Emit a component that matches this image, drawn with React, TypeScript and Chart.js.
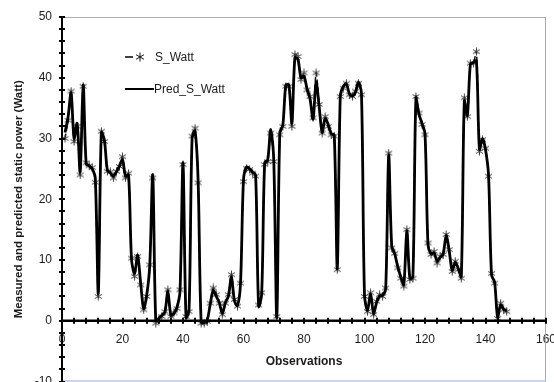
import React, { useEffect, useRef } from "react";
import { Chart, registerables } from "chart.js";
Chart.register(...registerables);

const observations = [
  1, 2, 3, 4, 5, 6, 7, 8, 9, 10, 11, 12, 13, 14, 15, 16, 17, 18, 19, 20,
  21, 22, 23, 24, 25, 26, 27, 28, 29, 30, 31, 32, 33, 34, 35, 36, 37, 38, 39, 40,
  41, 42, 43, 44, 45, 46, 47, 48, 49, 50, 51, 52, 53, 54, 55, 56, 57, 58, 59, 60,
  61, 62, 63, 64, 65, 66, 67, 68, 69, 70, 71, 72, 73, 74, 75, 76, 77, 78, 79, 80,
  81, 82, 83, 84, 85, 86, 87, 88, 89, 90, 91, 92, 93, 94, 95, 96, 97, 98, 99, 100,
  101, 102, 103, 104, 105, 106, 107, 108, 109, 110, 111, 112, 113, 114, 115, 116, 117, 118, 119, 120,
  121, 122, 123, 124, 125, 126, 127, 128, 129, 130, 131, 132, 133, 134, 135, 136, 137, 138, 139, 140,
  141, 142, 143, 144, 145, 146, 147,
];

const sWatt = [
  30, 33, 37.8, 29.5, 32, 24, 38.6, 26, 25.5, 25.2, 22.8, 4, 31.2, 29.5, 24.6, 24.5, 23.5, 24.6, 25.4, 27,
  23.5, 24.3, 10.3, 7.3, 10.6, 5.9, 1.8, 4, 9.2, 23.5, -0.4, 0.2, 0.7, 1.5, 5.1, 0.7, 1.3, 2, 5.1, 25.7,
  0.7, 1.5, 30.4, 31.7, 22.7, -0.4, -0.4, -0.1, 2.9, 5.4, 4.3, 2.9, 1, 2.9, 4.3, 7.6, 3.5, 2.4, 6.2, 22.9,
  25.1, 24.9, 24.3, 23.8, 2.6, 4.6, 25.7, 26.2, 30.9, 26.2, 0.7, 30.6, 32, 38.6, 38.6, 32, 43.8, 43.5, 39.7, 40.8,
  38, 36.9, 33.4, 40.8, 35.6, 30.9, 33.6, 32, 30.6, 30.4, 8.4, 36.9, 38.3, 39.1, 37.2, 36.9, 37.8, 39.1, 37.2, 4,
  1.5, 4.6, 1, 3.2, 4.3, 4, 5.4, 27.6, 12, 11.1, 8.7, 7, 5.7, 15, 6.8, 7, 36.9, 34.2, 32.3, 30.6,
  12.8, 10.9, 11.4, 9.5, 10.6, 10.9, 14.2, 11.7, 8.1, 9.8, 8.4, 7, 36.7, 33.6, 42.4, 42.4, 44.3, 27.9, 29.8, 28.4,
  23.8, 7.8, 6.2, 0.4, 2.9, 1.8, 1.5,
];

const predSWatt = [
  31, 33.5, 37.5, 30, 32.5, 24.5, 38.8, 25.8, 25.5, 25, 23.5, 4.5, 31, 29.8, 24.8, 24.3, 23.8, 24.5, 25.5, 26.5,
  23.8, 24, 10, 7.8, 10.8, 6.2, 2, 4.2, 9, 24, 0, 0.4, 0.9, 1.4, 4.8, 0.9, 1.2, 2.2, 4.8, 26,
  0.5, 1.8, 30, 31.2, 23, -0.2, -0.3, 0.1, 2.7, 5, 4, 3, 1.2, 3, 4, 7.2, 3.3, 2.5, 6, 23.2,
  25.3, 25, 24.5, 24, 2.4, 4.3, 26, 26.5, 31.5, 26.5, 0.5, 31, 32.2, 38.8, 38.8, 32.5, 43.3, 43, 40, 40.2,
  38.2, 36.5, 33.2, 39.3, 35.3, 31, 33.3, 32.3, 30.8, 30.6, 8.6, 37, 38.6, 39, 37.4, 37, 37.6, 39.3, 37.4, 4.2,
  1.7, 4.4, 1.2, 3, 4.1, 4.2, 5.2, 27.2, 12.3, 11, 8.9, 7.2, 6, 14.8, 7, 7.3, 36.6, 34, 32.5, 30.8,
  12.5, 11, 11.2, 9.8, 10.4, 11, 14, 11.5, 8.3, 9.6, 8.6, 7.3, 36.2, 33.8, 42.2, 42.5, 42.8, 28.2, 30, 28.2,
  24, 7.5, 6.4, 0.6, 2.6, 1.9, 1.6,
];

const seriesNames = ["S_Watt", "Pred_S_Watt"];
const xTickValues = [0, 20, 40, 60, 80, 100, 120, 140, 160];
const yTickValues = [-10, 0, 10, 20, 30, 40, 50];
const xMinorStep = 4;
const yMinorStep = 2;
const xTitle = "Observations";
const yTitle = "Measured and predicted static power (Watt)";

const FONT = "'Liberation Sans', Arial, Helvetica, sans-serif";

function makeStar(color: string, size: number) {
  const c = document.createElement("canvas");
  c.width = size;
  c.height = size;
  const g = c.getContext("2d")!;
  g.strokeStyle = color;
  g.lineWidth = 1;
  const m = size / 2;
  const r = size / 2 - 0.5;
  g.beginPath();
  g.moveTo(m, m - r);
  g.lineTo(m, m + r);
  const dx = r * 0.87;
  const dy = r * 0.5;
  g.moveTo(m - dx, m - dy);
  g.lineTo(m + dx, m + dy);
  g.moveTo(m + dx, m - dy);
  g.lineTo(m - dx, m + dy);
  g.stroke();
  return c;
}

export default function App() {
  const ref = useRef<HTMLCanvasElement | null>(null);

  useEffect(() => {
    document.body.style.margin = "0";
    const canvas = ref.current;
    if (!canvas) return;
    const star = makeStar("#3a3a3a", 9);
    const legendStar = makeStar("#111", 10);

    const framePlugin = {
      id: "frame",
      beforeDatasetsDraw(chart: any) {
        const { ctx, chartArea: a } = chart;
        ctx.save();
        ctx.strokeStyle = "#93AEDD";
        ctx.lineWidth = 1;
        ctx.strokeRect(a.left + 0.5, a.top + 0.5, a.right - a.left - 1, a.bottom - a.top - 1);
        ctx.restore();
      },
      afterDatasetsDraw(chart: any) {
        const { ctx, chartArea: a, scales } = chart;
        const xs = scales.x;
        const ys = scales.y;
        const x0 = xs.getPixelForValue(0);
        const y0 = ys.getPixelForValue(0);
        ctx.save();
        ctx.strokeStyle = "#000";
        ctx.lineWidth = 2;
        ctx.beginPath();
        ctx.moveTo(x0, a.top);
        ctx.lineTo(x0, a.bottom);
        ctx.stroke();
        ctx.lineWidth = 2;
        ctx.beginPath();
        for (let v = ys.min; v <= ys.max + 1e-9; v += yMinorStep) {
          const py = Math.round(ys.getPixelForValue(v));
          ctx.moveTo(x0 - 3, py);
          ctx.lineTo(x0 + 3, py);
        }
        ctx.stroke();
        ctx.lineWidth = 2.5;
        ctx.beginPath();
        ctx.moveTo(a.left, y0);
        ctx.lineTo(a.right, y0);
        ctx.stroke();
        ctx.lineWidth = 2;
        ctx.beginPath();
        for (let v = xs.min; v <= xs.max + 1e-9; v += xMinorStep) {
          const px = Math.round(xs.getPixelForValue(v));
          ctx.moveTo(px, y0 - 3);
          ctx.lineTo(px, y0 + 3);
        }
        ctx.stroke();
        ctx.restore();
      },
      afterDraw(chart: any) {
        const { ctx, chartArea: a } = chart;
        ctx.save();
        ctx.font = "12px " + FONT;
        ctx.fillStyle = "#1a1a1a";
        ctx.textBaseline = "middle";
        ctx.textAlign = "left";
        const lx = a.left + 63;
        const y1 = a.top + 40;
        const y2 = a.top + 72;
        ctx.strokeStyle = "#000";
        ctx.lineWidth = 1.5;
        ctx.beginPath();
        ctx.moveTo(lx, y1);
        ctx.lineTo(lx + 8, y1);
        ctx.stroke();
        ctx.drawImage(legendStar, lx + 10, y1 - 5);
        ctx.fillText(seriesNames[0], lx + 30, y1 + 1);
        ctx.lineWidth = 2;
        ctx.beginPath();
        ctx.moveTo(lx, y2);
        ctx.lineTo(lx + 29, y2);
        ctx.stroke();
        ctx.fillText(seriesNames[1], lx + 29, y2 + 1);
        ctx.restore();
      },
    };

    const chart = new Chart(canvas, {
      type: "line",
      data: {
        datasets: [
          {
            label: seriesNames[1],
            data: observations.map((o, i) => ({ x: o, y: predSWatt[i] })),
            borderColor: "#000",
            borderWidth: 2.8,
            pointRadius: 0,
            tension: 0.3,
            fill: false,
          },
          {
            label: seriesNames[0],
            data: observations.map((o, i) => ({ x: o, y: sWatt[i] })),
            borderColor: "#111",
            borderWidth: 1.5,
            borderDash: [5, 3],
            pointStyle: star as any,
            pointRadius: 4,
            tension: 0.3,
            fill: false,
          },
        ],
      },
      options: {
        animation: false,
        responsive: false,
        devicePixelRatio: 1,
        layout: { padding: { left: 0, top: 17, right: 8, bottom: 1 } },
        plugins: {
          legend: { display: false },
          tooltip: { enabled: false },
        },
        scales: {
          x: {
            type: "linear",
            position: { y: 0 } as any,
            min: 0,
            max: 160,
            afterBuildTicks: (s: any) => {
              s.ticks = xTickValues.map((v) => ({ value: v }));
            },
            afterFit: (s: any) => {
              s.paddingLeft = 0;
              s.paddingRight = 0;
            },
            grid: { display: false, drawTicks: false },
            border: { display: false },
            ticks: {
              padding: 12,
              maxRotation: 0,
              autoSkip: false,
              color: "#1a1a1a",
              font: { family: FONT, size: 12 },
            },
            title: {
              display: true,
              text: xTitle,
              color: "#1a1a1a",
              font: { family: FONT, size: 12, weight: "bold" },
              padding: { top: -5, bottom: 0 },
            },
          },
          y: {
            type: "linear",
            min: -10,
            max: 50,
            afterBuildTicks: (s: any) => {
              s.ticks = yTickValues.map((v) => ({ value: v }));
            },
            afterFit: (s: any) => {
              s.width = 62;
              s.paddingTop = 0;
              s.paddingBottom = 0;
            },
            grid: { display: false, drawTicks: false },
            border: { display: false },
            ticks: {
              padding: 10,
              autoSkip: false,
              color: "#1a1a1a",
              font: { family: FONT, size: 12 },
            },
            title: {
              display: true,
              text: yTitle,
              color: "#1a1a1a",
              font: { family: FONT, size: 11.5, weight: "bold" },
              padding: { top: 12, bottom: 0 },
            },
          },
        },
      },
      plugins: [framePlugin],
    });
    return () => chart.destroy();
  }, []);

  return (
    <div style={{ position: "fixed", left: 0, top: 0, width: 554, height: 382, overflow: "hidden" }}>
      <canvas ref={ref} width={554} height={387} style={{ display: "block" }} />
    </div>
  );
}
